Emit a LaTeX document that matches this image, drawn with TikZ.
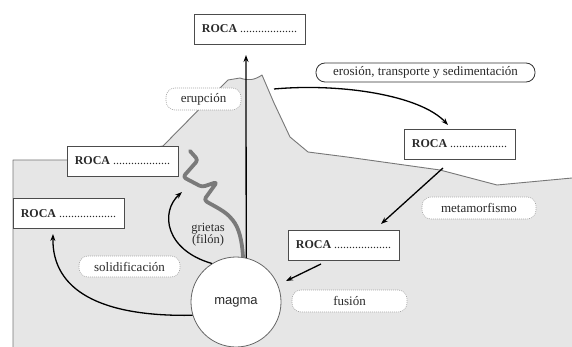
\documentclass[tikz,border=0pt]{standalone}
\usepackage{fontspec}
\setmainfont{Liberation Serif}
\newfontfamily\magmafont{Liberation Sans}
\usetikzlibrary{arrows.meta}
\definecolor{terrainfill}{HTML}{E6E6E6}
\definecolor{terrainline}{HTML}{777777}
\definecolor{filoncol}{HTML}{7A7A7A}
\definecolor{txtcol}{HTML}{2A2A2A}
\begin{document}
\begin{tikzpicture}[x=1pt,y=-1pt,
  rocabox/.style={draw=black!70, fill=white, line width=0.8pt, minimum width=111pt, minimum height=30pt, inner sep=0pt, font=\fontsize{12}{14}\selectfont, text=txtcol},
  lbl/.style={draw=black!35, dash pattern=on 1pt off 1pt, line width=0.6pt, fill=white, rounded corners=9pt, inner sep=0pt, font=\fontsize{13}{15}\selectfont, text=txtcol},
  lblsolid/.style={draw=black!80, line width=0.8pt, fill=white, rounded corners=9pt, inner sep=0pt, font=\fontsize{13}{15}\selectfont, text=txtcol},
  arr/.style={draw=black, line width=1.3pt, -{Stealth[length=7pt,width=5pt]}},
  filon/.style={draw=filoncol, line width=3.8pt, line cap=round, line join=round},
  terrain/.style={draw=terrainline, line width=0.9pt, line join=round}
]
\useasboundingbox (0,0) rectangle (572,347);
\fill[white] (0,0) rectangle (572,347);
% terrain
\fill[terrainfill] (13,347) -- (13,160) -- (67,160) -- (163,146) -- (228,80) -- (240,78) .. controls (248,81) and (255,80) .. (262,75) -- (274,103) -- (290,137) -- (308,152) -- (347,157) -- (440,170) -- (497,185) -- (572,178) -- (572,347) -- cycle;
\draw[terrain] (13,347) -- (13,160) -- (67,160) -- (163,146) -- (228,80) -- (240,78) .. controls (248,81) and (255,80) .. (262,75) -- (274,103) -- (290,137) -- (308,152) -- (347,157) -- (440,170) -- (497,185) -- (572,178);
% filon squiggle
\draw[filon, rounded corners=3pt] (190,151) -- (198,160) -- (183,177) -- (202,187) -- (217,182) -- (204,200) .. controls (212,205) and (223,210) .. (231,218) .. controls (239,228) and (242,240) .. (243,257);
% magma
\node[circle, draw=black!60, line width=0.8pt, fill=white, minimum size=90pt, inner sep=0pt, font=\magmafont\fontsize{13}{15}\selectfont, text=txtcol] (magma) at (236,302) {magma};
% rock boxes
\newcommand{\rocatext}{\textbf{ROCA} ...................}
\node[rocabox] (r1) at (249.5,29) {\rocatext};
\node[rocabox] (r2) at (459.5,144) {\rocatext};
\node[rocabox] (r3) at (122.5,161) {\rocatext};
\node[rocabox] (r4) at (68.5,213.5) {\rocatext};
\node[rocabox] (r5) at (343.5,245) {\rocatext};
% labels
\node[lbl, minimum width=75pt, minimum height=22pt] (lerup) at (203.5,99) {erupción};
\node[lblsolid, minimum width=219pt, minimum height=19pt] (lero) at (425.5,72.5) {erosión, transporte y sedimentación};
\node[lbl, minimum width=114pt, minimum height=22pt] (lmeta) at (479,208) {metamorfismo};
\node[lbl, minimum width=101pt, minimum height=21pt] (lsol) at (129.5,266.5) {solidificación};
\node[lbl, minimum width=115pt, minimum height=22pt] (lfus) at (349.5,301) {fusión};
\node[font=\fontsize{12.5}{14}\selectfont, text=txtcol, align=center, inner sep=0pt] (lgri) at (208,234.5) {grietas\\[-2pt](filón)};
% coordinates for arrow ends
\coordinate (eruptip) at (246,55);
\coordinate (ero0) at (274,89);
\coordinate (erotip) at (448,125);
\coordinate (meta0) at (443,168);
\coordinate (metatip) at (381,224);
\coordinate (fus0) at (321,264);
\coordinate (fustip) at (286,281);
\coordinate (soltip) at (53,234);
\coordinate (gritip) at (182,192);
% arrows
\draw[arr] (magma.77) -- (eruptip);
\draw[arr] (ero0) .. controls (340,83) and (420,95) .. (erotip);
\draw[arr] (meta0) -- (metatip);
\draw[arr] (fus0) -- (fustip);
\draw[arr] (magma.197) .. controls (100,317) and (52,290) .. (soltip);
\draw[arr] (magma.122) .. controls (165,250) and (160,212) .. (gritip);
\end{tikzpicture}
\end{document}
